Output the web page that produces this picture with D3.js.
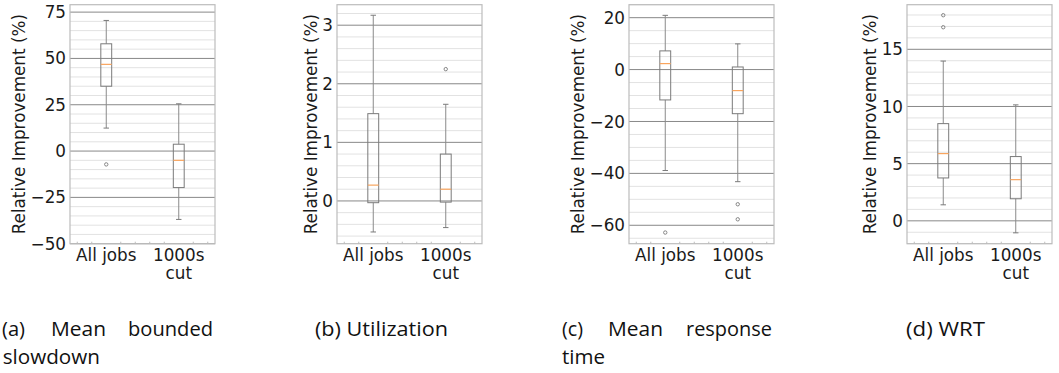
<!DOCTYPE html>
<html>
<head>
<meta charset="utf-8">
<script src="https://cdn.jsdelivr.net/npm/d3@7"></script>
<style>
  body { margin: 0; background: #fff; }
  svg { display: block; }
</style>
</head>
<body>
<svg id="chart" width="1059" height="373"></svg>
<script>
const categories = [["All jobs"], ["1000s", "cut"]];

// each box: [whisker low, q1, median, q3, whisker high]
const slowdownBoxes = [[12.4, 35.0, 46.8, 57.9, 70.5], [-36.9, -19.7, -5.0, 3.7, 25.5]];
const slowdownOutliers = [[-7.2], []];
const utilizationBoxes = [[-0.53, -0.03, 0.27, 1.49, 3.17], [-0.455, -0.02, 0.20, 0.80, 1.65]];
const utilizationOutliers = [[], [2.25]];
const responseBoxes = [[-38.9, -11.7, 2.3, 7.2, 20.9], [-43.2, -17.0, -8.1, 1.0, 9.9]];
const responseOutliers = [[-62.8], [-51.9, -57.7]];
const wrtBoxes = [[1.4, 3.75, 5.88, 8.5, 13.97], [-1.05, 1.93, 3.6, 5.62, 10.14]];
const wrtOutliers = [[16.93, 17.98], []];

const slowdownTicks = [-50, -25, 0, 25, 50, 75];
const utilizationTicks = [0, 1, 2, 3];
const responseTicks = [-60, -40, -20, 0, 20];
const wrtTicks = [0, 5, 10, 15];

const captionA = [["(a)", "Mean", "bounded"], ["slowdown"]];
const captionB = [["(b) Utilization"]];
const captionC = [["(c)", "Mean", "response"], ["time"]];
const captionD = [["(d) WRT"]];

const yLabel = "Relative Improvement (%)";

const panels = [
  { boxes: slowdownBoxes, outliers: slowdownOutliers, ticks: slowdownTicks, major: 25, minor: 5,
    domain: [-50, 79], left: 70, caption: captionA,
    capPos: [[[2, 25], [51, 106], [128, 213]], [[2.7, 100]]] },
  { boxes: utilizationBoxes, outliers: utilizationOutliers, ticks: utilizationTicks, major: 1, minor: 0.2,
    domain: [-0.73, 3.35], left: 337, caption: captionB,
    capPos: [[[315, 448]]] },
  { boxes: responseBoxes, outliers: responseOutliers, ticks: responseTicks, major: 20, minor: 5,
    domain: [-67.1, 25], left: 629, caption: captionC,
    capPos: [[[562, 583], [608, 663], [686, 772]], [[562, 605]]] },
  { boxes: wrtBoxes, outliers: wrtOutliers, ticks: wrtTicks, major: 5, minor: 1,
    domain: [-2.0, 18.9], left: 907, caption: captionD,
    capPos: [[[906, 985]]] }
];

const plotTop = 4.7, plotBottom = 243.7, plotW = 145;
const font = "DejaVu Sans", fontSize = 16.8;
const capBaselines = [336, 364];

const svg = d3.select("#chart");
const fmt = d3.format("");

panels.forEach(p => {
  const x = d3.scaleLinear([0.5, 2.5], [p.left, p.left + plotW]);
  const y = d3.scaleLinear(p.domain, [plotBottom, plotTop]);
  const g = svg.append("g");

  // minor grid
  const minorVals = d3.range(Math.ceil(p.domain[0] / p.minor), Math.floor(p.domain[1] / p.minor) + 1)
    .map(k => k * p.minor)
    .filter(v => Math.abs(v / p.major - Math.round(v / p.major)) > 1e-6);
  g.selectAll(".minor").data(minorVals).join("line")
    .attr("x1", x(0.5)).attr("x2", x(2.5))
    .attr("y1", d => y(d)).attr("y2", d => y(d))
    .attr("stroke", "#e2e2e2").attr("stroke-width", 1);

  // major grid
  g.selectAll(".major").data(p.ticks).join("line")
    .attr("x1", x(0.5)).attr("x2", x(2.5))
    .attr("y1", d => y(d)).attr("y2", d => y(d))
    .attr("stroke", "#888").attr("stroke-width", 1);

  // frame
  g.append("rect")
    .attr("x", x(0.5)).attr("y", plotTop)
    .attr("width", plotW).attr("height", plotBottom - plotTop)
    .attr("fill", "none").attr("stroke", "#bcbcbc").attr("stroke-width", 1.2);

  // x minor ticks
  const xMinor = d3.range(3, 13).map(k => k * 0.2).filter(v => Math.abs(v - Math.round(v)) > 1e-6);
  g.selectAll(".xt").data(xMinor).join("line")
    .attr("x1", d => x(d)).attr("x2", d => x(d))
    .attr("y1", plotBottom).attr("y2", plotBottom - 2)
    .attr("stroke", "#bcbcbc");

  // y tick labels
  const yt = g.selectAll(".yt").data(p.ticks).join("text")
    .attr("x", p.left - 4).attr("y", d => y(d)).attr("dy", "0.36em")
    .attr("text-anchor", "end")
    .attr("font-family", font).attr("font-size", fontSize).attr("fill", "#1a1a1a")
    .text(d => fmt(d));
  const maxW = d3.max(yt.nodes(), n => n.getComputedTextLength());

  // y label
  const lx = p.left - 4 - maxW - 11;
  g.append("text")
    .attr("transform", `translate(${lx},${(plotTop + plotBottom) / 2}) rotate(-90)`)
    .attr("dy", "0.32em")
    .attr("text-anchor", "middle")
    .attr("font-family", font).attr("font-size", fontSize).attr("fill", "#1a1a1a")
    .text(yLabel);

  // x tick labels
  categories.forEach((lines, i) => {
    g.append("text")
      .attr("text-anchor", "middle")
      .attr("font-family", font).attr("font-size", fontSize).attr("fill", "#1a1a1a")
      .selectAll("tspan").data(lines).join("tspan")
      .attr("x", x(i + 1)).attr("y", (d, j) => 260.5 + j * 18.4)
      .text(d => d);
  });

  // boxes
  const bw = x(1.15) - x(1), cw = bw / 2;
  p.boxes.forEach((b, i) => {
    const cx = x(i + 1);
    const [lo, q1, med, q3, hi] = b;
    g.append("line").attr("x1", cx).attr("x2", cx).attr("y1", y(q3)).attr("y2", y(hi))
      .attr("stroke", "#8a8a8a");
    g.append("line").attr("x1", cx).attr("x2", cx).attr("y1", y(q1)).attr("y2", y(lo))
      .attr("stroke", "#8a8a8a");
    [lo, hi].forEach(v => g.append("line")
      .attr("x1", cx - cw / 2).attr("x2", cx + cw / 2).attr("y1", y(v)).attr("y2", y(v))
      .attr("stroke", "#7a7a7a"));
    g.append("rect")
      .attr("x", cx - bw / 2).attr("y", y(q3))
      .attr("width", bw).attr("height", y(q1) - y(q3))
      .attr("fill", "none").attr("stroke", "#7a7a7a");
    g.append("line").attr("x1", cx - bw / 2).attr("x2", cx + bw / 2).attr("y1", y(med)).attr("y2", y(med))
      .attr("stroke", "#f9a55e").attr("stroke-width", 1.2);
    g.selectAll(null).data(p.outliers[i]).join("circle")
      .attr("cx", cx).attr("cy", d => y(d)).attr("r", 1.7)
      .attr("fill", "none").attr("stroke", "#7a7a7a").attr("stroke-width", 0.9);
  });

  // caption
  p.caption.forEach((words, li) => {
    words.forEach((w, wi) => {
      const [x0, x1] = p.capPos[li][wi];
      g.append("text")
        .attr("x", x0).attr("y", capBaselines[li])
        .attr("font-family", "Open Sans").attr("font-size", 19.5).attr("fill", "#111")
        .attr("textLength", x1 - x0).attr("lengthAdjust", "spacingAndGlyphs")
        .text(w);
    });
  });
});
</script>
</body>
</html>
